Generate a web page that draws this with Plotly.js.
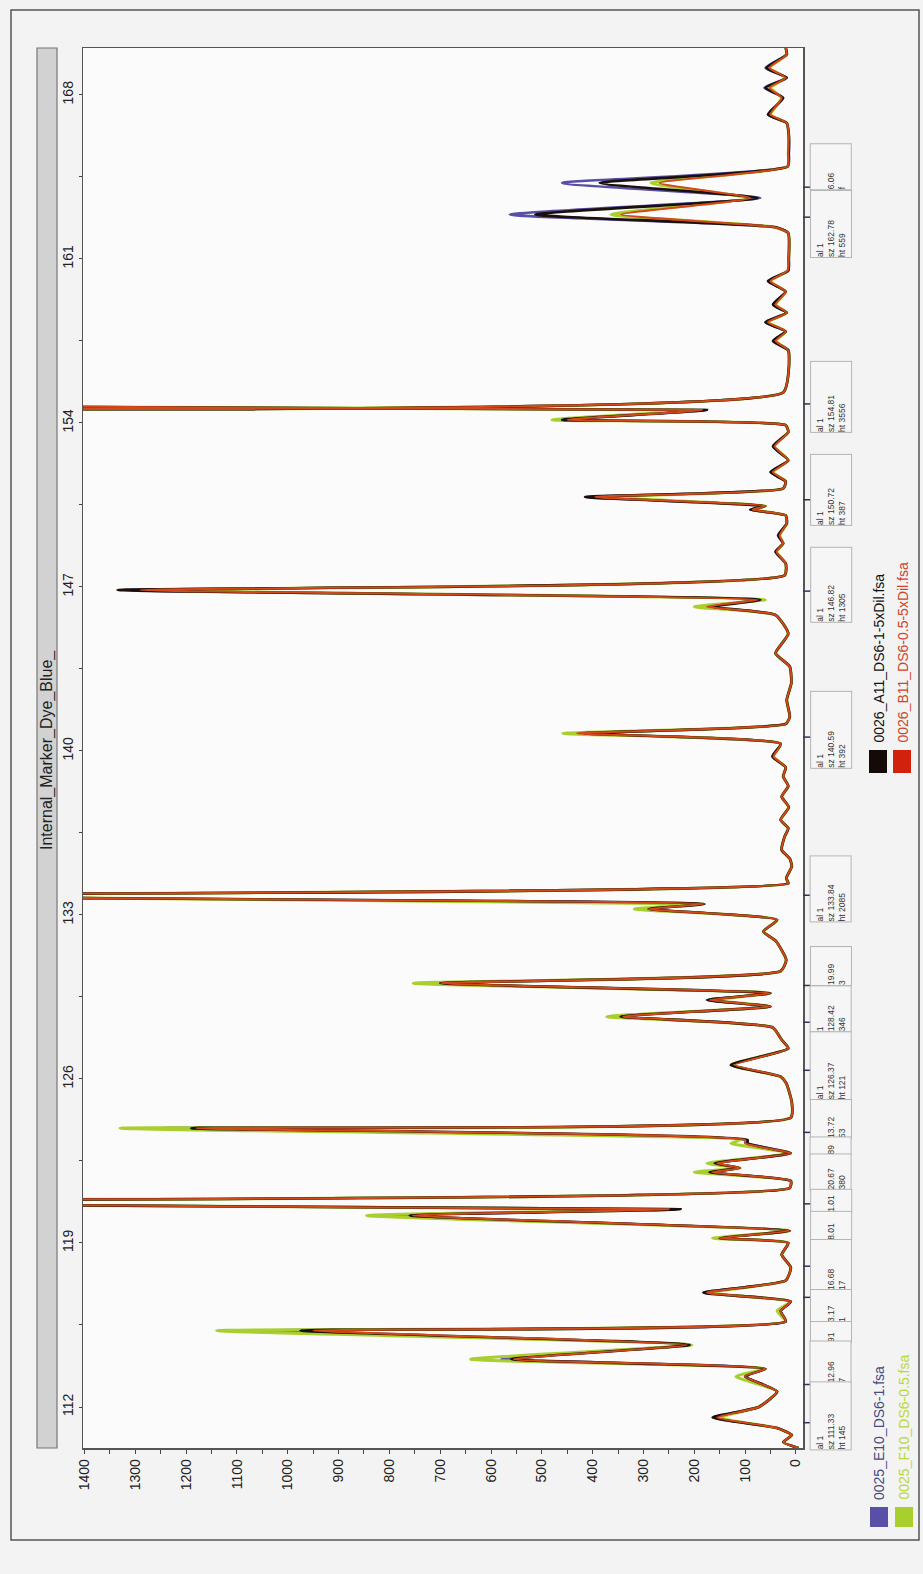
<!DOCTYPE html>
<html><head><meta charset="utf-8">
<script src="https://cdn.plot.ly/plotly-3.0.1.min.js"></script>
<style>body{margin:0;background:#f3f3f3}#chart{width:923px;height:1574px}</style>
</head><body><div id="chart"></div>
<script>
// size (bp) sample points, top (170) to bottom (110.25)
const sizeBp = [170.0,169.72,169.15,168.73,168.3,167.87,167.16,166.8,166.3,165.5,164.95,164.24,163.6,162.89,162.35,162.1,161.0,160.5,160.05,159.6,159.05,158.7,158.3,157.9,157.5,157.1,156.3,155.3,154.81,154.55,154.13,153.9,153.6,153.0,152.4,151.9,151.5,151.2,150.84,150.45,150.3,150.05,149.7,149.2,148.86,148.5,148.0,147.5,146.87,146.45,146.15,145.8,145.0,144.17,143.6,142.89,142.18,141.46,141.15,140.75,140.3,139.76,139.3,138.91,138.5,138.05,137.6,137.06,136.7,136.35,135.78,135.4,135.07,134.57,134.35,133.84,133.47,133.25,132.79,132.29,131.9,131.08,130.6,130.09,129.66,129.37,129.09,128.66,128.2,127.67,127.3,126.6,126.1,125.82,125.0,124.35,123.9,123.4,123.25,122.83,122.4,122.2,122.02,121.65,121.35,120.82,120.44,120.17,119.52,119.2,119.0,118.5,117.95,117.4,116.88,116.5,116.1,115.65,115.26,114.65,114.04,113.63,113.3,112.66,112.0,111.55,111.1,110.8,110.5,110.25];
// 0025_E10_DS6-1.fsa (blue)
const e10 = [20,18,60,18,62,25,55,18,14,14,16,460,70,563,40,15,14,15,55,20,45,18,60,20,45,15,14,25,3556,180,465,20,15,45,15,50,20,25,400,60,90,20,18,35,25,40,20,22,1310,75,175,40,15,40,12,9,18,12,20,420,30,46,20,25,15,28,14,30,15,22,28,12,8,19,15,2085,190,290,37,64,40,19,30,725,50,173,50,350,46,28,15,125,30,19,8,10,1250,100,95,10,165,110,175,10,12,3000,235,800,12,155,15,28,10,20,182,10,30,20,1060,210,580,60,100,37,73,160,37,8,25,-5];
// 0025_F10_DS6-0.5.fsa (green)
const f10 = [20,18,52,20,50,28,50,18,14,15,16,285,95,364,42,15,14,16,50,20,40,18,55,20,40,15,14,25,3500,200,480,20,15,42,15,45,20,25,370,60,85,20,18,32,25,38,20,22,1260,60,200,40,15,40,12,9,18,12,20,459,30,44,20,25,15,28,14,30,15,22,28,12,8,19,15,2100,185,318,37,64,40,19,30,753,50,160,50,372,46,28,15,128,30,19,8,10,1330,110,128,10,175,110,200,10,12,3000,240,845,12,164,15,28,10,20,170,10,37,20,1140,205,640,60,118,37,73,150,37,8,25,-5];
// 0026_A11_DS6-1-5xDil.fsa (black)
const a11 = [20,18,58,18,60,25,55,18,14,14,16,386,75,513,40,15,14,15,55,20,45,18,60,20,45,15,14,25,3556,175,460,20,15,45,15,50,20,25,415,60,90,20,18,35,25,40,20,22,1335,70,165,40,15,40,12,9,18,12,20,417,30,46,20,25,15,28,14,30,15,22,28,12,8,19,15,2085,180,290,37,64,40,19,30,700,50,175,50,345,46,28,15,128,30,19,8,10,1190,95,95,10,160,110,170,10,12,3000,227,760,12,150,15,28,10,20,182,10,30,20,975,209,560,60,100,37,73,164,37,8,25,-5];
// 0026_B11_DS6-0.5-5xDil.fsa (red)
const b11 = [20,18,52,20,52,28,50,18,14,15,16,268,90,344,42,15,14,16,50,20,40,18,55,20,40,15,14,25,3480,185,450,20,15,42,15,45,20,25,395,60,85,20,18,32,25,38,20,22,1290,75,175,40,15,40,12,9,18,12,20,431,30,44,20,25,15,28,14,30,15,22,28,12,8,19,15,2050,182,290,37,64,40,19,30,698,50,170,50,340,46,28,15,120,30,19,8,10,1180,100,100,10,155,110,165,10,12,3000,250,754,12,150,15,28,10,20,175,10,30,20,950,215,555,60,100,37,73,155,37,8,25,-5];

const sizeTicks = [112,119,126,133,140,147,154,161,168];
const heightTicks = [0,100,200,300,400,500,600,700,800,900,1000,1100,1200,1300,1400];

// peak label boxes: centre size, texts
const peakLabelSize = [164.91,162.49,155.11,151.14,147.09,140.90,134.09,130.82,128.97,126.54,124.29,123.12,122.01,120.8,119.73,118.06,116.31,115.2,113.9,111.6];
const peakLabelText = [
 '&nbsp;<br>6.06<br>f',
 'al 1<br>sz 162.78<br>ht 559',
 'al 1<br>sz 154.81<br>ht 3556',
 'al 1<br>sz 150.72<br>ht 387',
 'al 1<br>sz 146.82<br>ht 1305',
 'al 1<br>sz 140.59<br>ht 392',
 'al 1<br>sz 133.84<br>ht 2085',
 '&nbsp;<br>19.99<br>3',
 '1<br>128.42<br>346',
 'al 1<br>sz 126.37<br>ht 121',
 '&nbsp;<br>13.72<br>53',
 '&nbsp;<br>89<br>&nbsp;',
 '&nbsp;<br>20.67<br>380',
 '&nbsp;<br>1.01<br>&nbsp;',
 '&nbsp;<br>8.01<br>&nbsp;',
 '&nbsp;<br>16.68<br>17',
 '&nbsp;<br>3.17<br>1',
 '&nbsp;<br>91<br>&nbsp;',
 '&nbsp;<br>12.96<br>7',
 'al 1<br>sz 111.33<br>ht 145'];
const peakLabelSpanPx = [45,66,70,70,74,76,65,38,45,67,38,17,35,22,28,50,32,20,41,67];
const peakMarks = [164.06,162.78,154.81,150.72,146.82,140.59,133.84,129.99,128.42,126.37,123.72,120.67,118.01,116.68,112.96,111.33];

const FONT = 'Liberation Sans, Arial, sans-serif';
function tr(x, name, color, width) {
  return {x: x, y: sizeBp, name: name, type: 'scatter', mode: 'lines',
    line: {color: color, width: width, shape: 'spline', smoothing: 0.5},
    hoverinfo: 'skip', showlegend: false};
}
const data = [
  tr(e10, '0025_E10_DS6-1.fsa', '#5a4fa6', 2.6),
  tr(f10, '0025_F10_DS6-0.5.fsa', '#a9cf2e', 3.0),
  tr(a11, '0026_A11_DS6-1-5xDil.fsa', '#1a0f0a', 2.6),
  tr(b11, '0026_B11_DS6-0.5-5xDil.fsa', '#d2491c', 2.0)
];

// pixel helpers for paper coordinates (plot area 83..803 x, 48..1448 y)
const px = v => (v - 83) / 720;
const py = v => (1448 - v) / 1400;

const shapes = [
  {type:'rect', xref:'paper', yref:'paper', x0:px(11), x1:px(919), y0:py(1540), y1:py(10), line:{color:'#555', width:1.5}, layer:'below'},
  {type:'rect', xref:'paper', yref:'paper', x0:px(37), x1:px(57), y0:0, y1:1, fillcolor:'#d2d2d2', line:{color:'#777', width:1.2}},
  {type:'rect', xref:'paper', yref:'paper', x0:px(870), x1:px(888), y0:py(1527), y1:py(1507), fillcolor:'#5a4fa6', line:{width:0}},
  {type:'rect', xref:'paper', yref:'paper', x0:px(895), x1:px(913), y0:py(1527), y1:py(1507), fillcolor:'#a9cf2e', line:{width:0}},
  {type:'rect', xref:'paper', yref:'paper', x0:px(869), x1:px(887), y0:py(773), y1:py(750), fillcolor:'#140a08', line:{width:0}},
  {type:'rect', xref:'paper', yref:'paper', x0:px(893), x1:px(911), y0:py(773), y1:py(750), fillcolor:'#d2220e', line:{width:0}}
];
peakMarks.forEach(s => shapes.push({type:'line', xref:'paper', yref:'y', x0:1.0, x1:px(811), y0:s, y1:s, line:{color:'#33335a', width:1.5}}));

const annotations = [
  {xref:'paper', yref:'paper', x:px(47), y:py(750), xanchor:'center', yanchor:'middle', text:'Internal_Marker_Dye_Blue_', textangle:-90, showarrow:false, font:{family:FONT, size:16, color:'#222'}},
  {xref:'paper', yref:'paper', x:px(879), y:py(1502), xanchor:'center', yanchor:'bottom', text:'0025_E10_DS6-1.fsa', textangle:-90, showarrow:false, font:{family:FONT, size:14, color:'#4a4a82'}},
  {xref:'paper', yref:'paper', x:px(904), y:py(1502), xanchor:'center', yanchor:'bottom', text:'0025_F10_DS6-0.5.fsa', textangle:-90, showarrow:false, font:{family:FONT, size:14, color:'#b8d83a'}},
  {xref:'paper', yref:'paper', x:px(878), y:py(745), xanchor:'center', yanchor:'bottom', text:'0026_A11_DS6-1-5xDil.fsa', textangle:-90, showarrow:false, font:{family:FONT, size:14, color:'#111'}},
  {xref:'paper', yref:'paper', x:px(902), y:py(745), xanchor:'center', yanchor:'bottom', text:'0026_B11_DS6-0.5-5xDil.fsa', textangle:-90, showarrow:false, font:{family:FONT, size:14, color:'#d0452a'}}
];
peakLabelSize.forEach((s, i) => annotations.push({
  xref:'paper', yref:'y', x:px(831), y:s, xanchor:'center', yanchor:'middle',
  text:peakLabelText[i], textangle:-90, showarrow:false,
  align:'left', width:peakLabelSpanPx[i], height:40, borderpad:0,
  bordercolor:'#b5b5b5', borderwidth:1, bgcolor:'#f6f6f6',
  font:{family:FONT, size:8.5, color:'#333'}
}));

const layout = {
  width: 923, height: 1574,
  margin: {l:83, r:120, t:48, b:126, pad:0},
  paper_bgcolor:'#f3f3f3', plot_bgcolor:'#fbfbfb',
  showlegend:false,
  xaxis: {range:[1403,-14], tickmode:'array', tickvals:heightTicks, ticktext:heightTicks.map(String),
    tickangle:-90, ticks:'outside', ticklen:4, tickcolor:'#444', showline:true, linecolor:'#555', linewidth:1.5, mirror:true,
    showgrid:false, zeroline:false, tickfont:{family:FONT, size:14, color:'#222'},
    minor:{tickmode:'linear', tick0:50, dtick:100, ticks:'outside', ticklen:4, tickcolor:'#444'}},
  yaxis: {range:[110.25,170.0], tickmode:'array', tickvals:sizeTicks, ticktext:sizeTicks.map(String),
    tickangle:-90, ticks:'outside', ticklen:3, tickcolor:'#444', showline:true, linecolor:'#555', linewidth:1.5, mirror:true,
    showgrid:false, zeroline:false, tickfont:{family:FONT, size:14, color:'#222'},
    minor:{tickmode:'linear', tick0:115.5, dtick:7, ticks:'outside', ticklen:3, tickcolor:'#444'}},
  shapes: shapes,
  annotations: annotations
};
Plotly.newPlot('chart', data, layout, {displayModeBar:false, staticPlot:true});
</script></body></html>
